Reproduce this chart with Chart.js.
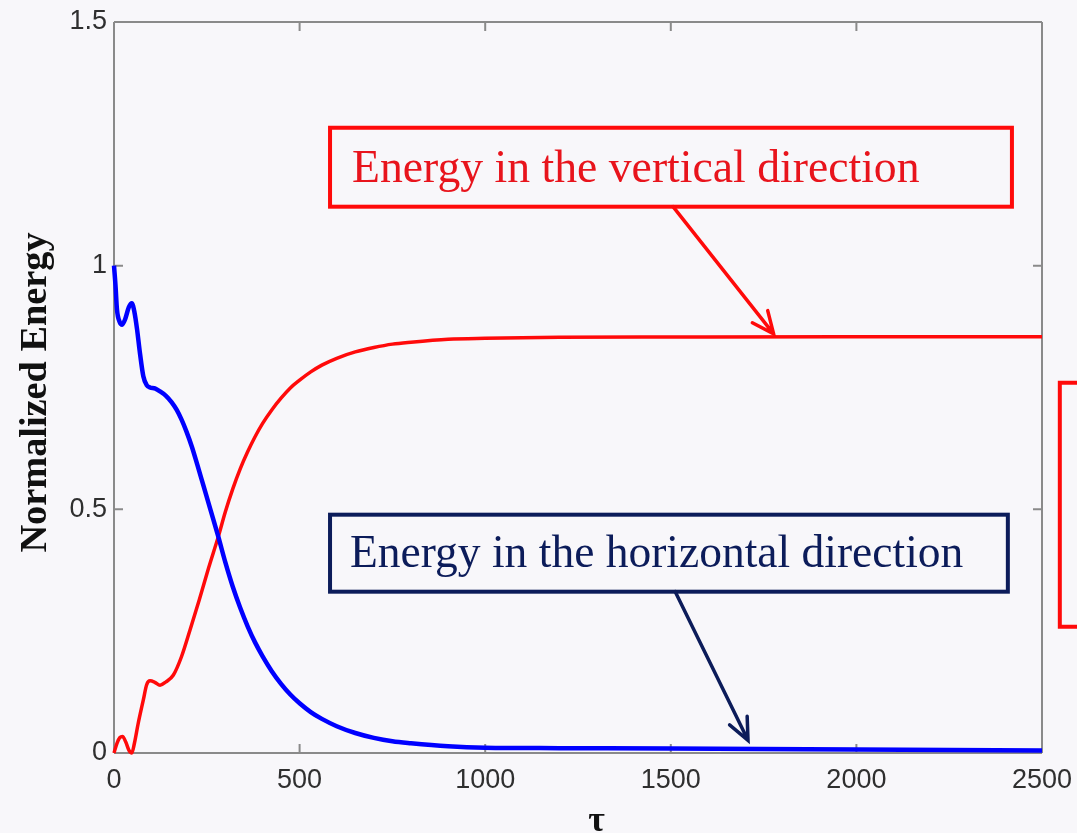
<!DOCTYPE html>
<html>
<head>
<meta charset="utf-8">
<title>Normalized Energy</title>
<script src="https://cdn.jsdelivr.net/npm/chart.js@4.4.1/dist/chart.umd.min.js"></script>
<style>
  html, body { margin: 0; padding: 0; background: #f8f7fa; }
  #wrap { width: 1077px; height: 833px; position: relative; }
</style>
</head>
<body>
<div id="wrap"><canvas id="c" width="1077" height="833"></canvas></div>
<script>
// Energy exchange between the two directions over time tau
const tauHorizontal = [0, 4, 8, 15, 22, 30, 40, 48, 55, 62, 70, 79, 88, 97, 110, 124, 140, 155, 169, 182, 195, 210, 225, 240, 260, 281, 300, 320, 340, 360, 380, 400, 425, 450, 475, 500, 530, 560, 600, 650, 700, 750, 800, 900, 1000, 1200, 1500, 2000, 2500];
const energyHorizontal = [1.00, 0.96, 0.91, 0.885, 0.879, 0.89, 0.915, 0.923, 0.905, 0.87, 0.82, 0.773, 0.755, 0.750, 0.748, 0.742, 0.733, 0.720, 0.704, 0.684, 0.660, 0.628, 0.590, 0.551, 0.499, 0.444, 0.391, 0.341, 0.298, 0.260, 0.227, 0.199, 0.168, 0.142, 0.120, 0.102, 0.084, 0.070, 0.055, 0.041, 0.031, 0.024, 0.020, 0.014, 0.011, 0.010, 0.009, 0.007, 0.005];

const tauVertical = [0, 8, 16, 23, 32, 40, 48, 55, 65, 79, 88, 97, 110, 124, 140, 160, 182, 205, 230, 255, 281, 300, 320, 340, 360, 380, 400, 425, 450, 475, 500, 530, 560, 600, 650, 700, 750, 800, 900, 1000, 1200, 1500, 2000, 2500];
const energyVertical = [0.0, 0.02, 0.032, 0.034, 0.022, 0.006, 0.0, 0.02, 0.06, 0.109, 0.140, 0.148, 0.145, 0.139, 0.146, 0.160, 0.198, 0.253, 0.315, 0.380, 0.444, 0.495, 0.542, 0.583, 0.618, 0.649, 0.676, 0.704, 0.728, 0.749, 0.765, 0.782, 0.796, 0.810, 0.823, 0.832, 0.839, 0.843, 0.849, 0.851, 0.853, 0.8535, 0.854, 0.854];

const xTickValues = [0, 500, 1000, 1500, 2000, 2500];
const xTickLabels = ['0', '500', '1000', '1500', '2000', '2500'];
const yTickValues = [0, 0.5, 1, 1.5];
const yTickLabels = ['0', '0.5', '1', '1.5'];

const labelVertical = 'Energy in the vertical direction';
const labelHorizontal = 'Energy in the horizontal direction';
const yTitle = 'Normalized Energy';
const xTitle = 'τ';

const toPoints = (xs, ys) => xs.map((x, i) => ({ x: x, y: ys[i] }));

const AXIS_GREY = '#8a8a8a';
const RED = '#ff0a0a';
const NAVY = '#0c1c5a';

// MATLAB-style box with inward ticks, plus the callout boxes and arrows
const framePlugin = {
  id: 'frame',
  beforeDraw(chart) {
    const ctx = chart.ctx;
    ctx.save();
    ctx.fillStyle = '#f8f7fa';
    ctx.fillRect(0, 0, chart.width, chart.height);
    ctx.restore();
  },
  beforeDatasetsDraw(chart) {
    const { ctx, chartArea: a, scales } = chart;
    ctx.save();
    ctx.strokeStyle = AXIS_GREY;
    ctx.lineWidth = 2;
    ctx.beginPath();
    ctx.moveTo(a.left, a.top); ctx.lineTo(a.right, a.top);
    ctx.moveTo(a.right, a.top); ctx.lineTo(a.right, a.bottom);
    ctx.moveTo(a.left, a.top); ctx.lineTo(a.left, a.bottom);
    ctx.moveTo(a.left, a.bottom); ctx.lineTo(a.right, a.bottom);
    const len = 9;
    xTickValues.forEach(v => {
      const px = scales.x.getPixelForValue(v);
      ctx.moveTo(px, a.bottom); ctx.lineTo(px, a.bottom - len);
      ctx.moveTo(px, a.top); ctx.lineTo(px, a.top + len);
    });
    yTickValues.forEach(v => {
      const py = scales.y.getPixelForValue(v);
      ctx.moveTo(a.left, py); ctx.lineTo(a.left + len, py);
      ctx.moveTo(a.right, py); ctx.lineTo(a.right - len, py);
    });
    ctx.stroke();
    ctx.restore();
  },
  afterDatasetsDraw(chart) {
    const { ctx, scales } = chart;
    const X = v => scales.x.getPixelForValue(v);
    const Y = v => scales.y.getPixelForValue(v);

    function arrow(x0, y0, x1, y1, color, w) {
      const ang = Math.atan2(y1 - y0, x1 - x0);
      const head = 24, spread = 0.42;
      ctx.strokeStyle = color;
      ctx.lineWidth = w;
      ctx.lineCap = 'round';
      ctx.beginPath();
      ctx.moveTo(x0, y0); ctx.lineTo(x1, y1);
      ctx.moveTo(x1 - head * Math.cos(ang - spread), y1 - head * Math.sin(ang - spread));
      ctx.lineTo(x1, y1);
      ctx.lineTo(x1 - head * Math.cos(ang + spread), y1 - head * Math.sin(ang + spread));
      ctx.stroke();
    }

    ctx.save();
    // vertical-direction callout
    let bx0 = X(582), bx1 = X(2419), by0 = Y(1.283), by1 = Y(1.121);
    ctx.strokeStyle = RED;
    ctx.lineWidth = 4;
    ctx.lineJoin = 'miter';
    ctx.strokeRect(bx0, by0, bx1 - bx0, by1 - by0);
    ctx.fillStyle = '#e8141c';
    ctx.font = '45.7px "Liberation Serif", "Times New Roman", serif';
    ctx.textBaseline = 'alphabetic';
    ctx.textAlign = 'left';
    ctx.fillText(labelVertical, bx0 + 22, by0 + 54);
    arrow(X(1506), by1, X(1777), Y(0.860), RED, 3.5);

    // horizontal-direction callout
    bx0 = X(582); bx1 = X(2408); by0 = Y(0.489); by1 = Y(0.331);
    ctx.strokeStyle = NAVY;
    ctx.lineWidth = 4;
    ctx.strokeRect(bx0, by0, bx1 - bx0, by1 - by0);
    ctx.fillStyle = NAVY;
    ctx.font = '45.5px "Liberation Serif", "Times New Roman", serif';
    ctx.fillText(labelHorizontal, bx0 + 20, by0 + 52);
    arrow(X(1512), by1, X(1708), Y(0.026), NAVY, 3.5);

    // callout frame entering from the right edge
    ctx.strokeStyle = RED;
    ctx.lineWidth = 4;
    const rx = X(2548), ry0 = Y(0.760), ry1 = Y(0.259);
    ctx.beginPath();
    ctx.moveTo(chart.width + 5, ry0);
    ctx.lineTo(rx, ry0);
    ctx.lineTo(rx, ry1);
    ctx.lineTo(chart.width + 5, ry1);
    ctx.stroke();

    // axis titles
    ctx.fillStyle = '#111';
    ctx.font = 'bold 36px "Liberation Serif", "Times New Roman", serif';
    ctx.textAlign = 'center';
    ctx.textBaseline = 'middle';
    ctx.fillText(xTitle, X(1300), 822);
    ctx.translate(36, (chart.chartArea.top + chart.chartArea.bottom) / 2 + 5);
    ctx.rotate(-Math.PI / 2);
    ctx.font = 'bold 38.3px "Liberation Serif", "Times New Roman", serif';
    ctx.fillText(yTitle, 0, 0);
    ctx.restore();
  }
};

new Chart(document.getElementById('c'), {
  type: 'line',
  data: {
    datasets: [
      {
        label: labelHorizontal,
        data: toPoints(tauHorizontal, energyHorizontal),
        borderColor: '#0000ff',
        borderWidth: 4.5,
        pointRadius: 0,
        cubicInterpolationMode: 'monotone',
        clip: 8
      },
      {
        label: labelVertical,
        data: toPoints(tauVertical, energyVertical),
        borderColor: RED,
        borderWidth: 3.5,
        pointRadius: 0,
        cubicInterpolationMode: 'monotone',
        clip: 8
      }
    ]
  },
  options: {
    responsive: false,
    animation: false,
    devicePixelRatio: 1,
    layout: { padding: { left: 0, right: 35, top: 22, bottom: 0 } },
    plugins: { legend: { display: false }, tooltip: { enabled: false } },
    scales: {
      x: {
        type: 'linear',
        min: 0, max: 2500,
        afterFit: s => { s.height = 80; s.paddingRight = 0; s.paddingLeft = 0; },
        afterBuildTicks: s => { s.ticks = xTickValues.map(v => ({ value: v })); },
        grid: { display: false, drawTicks: false },
        border: { display: false },
        ticks: {
          padding: 11,
          color: '#2f2f2f',
          font: { family: '"Liberation Sans", Arial, sans-serif', size: 27 },
          callback: (v) => xTickLabels[xTickValues.indexOf(v)],
          maxRotation: 0,
          autoSkip: false
        }
      },
      y: {
        type: 'linear',
        min: 0, max: 1.5,
        afterFit: s => { s.width = 114; s.paddingTop = 0; s.paddingBottom = 0; },
        afterBuildTicks: s => { s.ticks = yTickValues.map(v => ({ value: v })); },
        grid: { display: false, drawTicks: false },
        border: { display: false },
        ticks: {
          padding: 7,
          color: '#2f2f2f',
          font: { family: '"Liberation Sans", Arial, sans-serif', size: 27 },
          callback: (v) => yTickLabels[yTickValues.indexOf(v)],
          autoSkip: false
        }
      }
    }
  },
  plugins: [framePlugin]
});
</script>
</body>
</html>
